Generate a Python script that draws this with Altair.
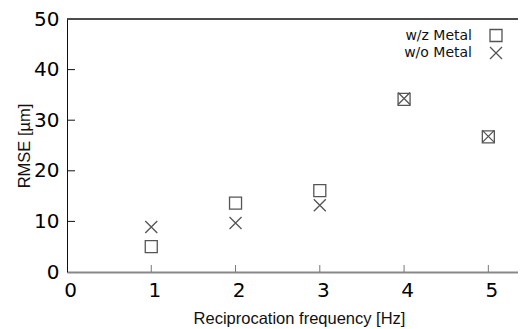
import altair as alt
import pandas as pd

freq = [1, 2, 3, 4, 5]
with_metal = [5.0, 13.6, 16.1, 34.1, 26.7]
without_metal = [8.9, 9.7, 13.2, 34.3, 26.8]
series = ["w/z Metal", "w/o Metal"]
x_ticks = [0, 1, 2, 3, 4, 5]
y_ticks = [0, 10, 20, 30, 40, 50]

W, H = 451, 253
XDOM = [0, 5.352]
YDOM = [0, 50]

df = pd.DataFrame({
    "freq": freq * 2,
    "rmse": with_metal + without_metal,
    "series": [series[0]] * len(freq) + [series[1]] * len(freq),
})
leg = pd.DataFrame({"series": series})
xt = pd.DataFrame({"v": x_ticks[1:]})
yt = pd.DataFrame({"v": y_ticks[1:-1]})

xcross = "M-1,-1L1,1M-1,1L1,-1"
shape_scale = alt.Scale(domain=series, range=["square", xcross])

xscale = alt.Scale(domain=XDOM, nice=False, zero=False)
yscale = alt.Scale(domain=YDOM, nice=False)

points = alt.Chart(df).mark_point(filled=False, size=144, color="#555", strokeWidth=1.3, opacity=1).encode(
    x=alt.X("freq:Q", scale=xscale,
            axis=alt.Axis(values=x_ticks, format="d", title="Reciprocation frequency [Hz]", grid=False,
                          tickSize=0, labelFont="DejaVu Sans", labelFontSize=20, labelColor="#000",
                          labelPadding=8, labelFlush=False, labelOverlap=False, labelOffset=3,
                          domainColor="#888", domainWidth=2,
                          titleFont="Liberation Sans", titleFontSize=16.5, titleFontWeight="normal",
                          titleColor="#111", titleBaseline="alphabetic", titleY=51, titleX=232)),
    y=alt.Y("rmse:Q", scale=yscale,
            axis=alt.Axis(values=y_ticks, format="d", title="RMSE [µm]", grid=False,
                          tickSize=0, labelFont="DejaVu Sans", labelFontSize=20, labelColor="#000",
                          labelPadding=8, labelFlush=False, labelOverlap=False,
                          domainColor="#111", domainWidth=1,
                          titleFont="Liberation Sans", titleFontSize=16.5, titleFontWeight="normal",
                          titleColor="#111", titleBaseline="alphabetic", titleX=-38)),
    shape=alt.Shape("series:N", scale=shape_scale, legend=None),
)

xticks = alt.Chart(xt).mark_rule(color="#777", strokeWidth=1).encode(
    x=alt.X("v:Q", scale=xscale), y=alt.value(H), y2=alt.value(H - 7))
yticks = alt.Chart(yt).mark_rule(color="#111", strokeWidth=1).encode(
    y=alt.Y("v:Q", scale=yscale, axis=None), x=alt.value(0), x2=alt.value(8))
top = alt.Chart(leg).mark_rule(color="#111", strokeWidth=1).encode(
    x=alt.value(0), x2=alt.value(W), y=alt.value(0))

legy = alt.Y("series:N", scale=alt.Scale(domain=series, range=[16.5, 34], padding=0), axis=None)
leg_sym = alt.Chart(leg).mark_point(filled=False, size=144, color="#555", strokeWidth=1.3, opacity=1).encode(
    x=alt.value(429), y=legy,
    shape=alt.Shape("series:N", scale=shape_scale, legend=None))
leg_txt = alt.Chart(leg).mark_text(align="right", baseline="middle", font="DejaVu Sans",
                                   fontSize=14, color="#111").encode(
    x=alt.value(405), y=legy, text="series:N")

chart = alt.layer(points, xticks, yticks, top, leg_sym, leg_txt).resolve_scale(y="independent").properties(
    width=W, height=H,
    autosize=alt.AutoSizeParams(type="none"),
    padding={"left": 59, "top": 11, "right": 0, "bottom": 57},
).configure_view(stroke=None)

chart.save("out.html", embed_options={"renderer": "svg", "actions": False})
